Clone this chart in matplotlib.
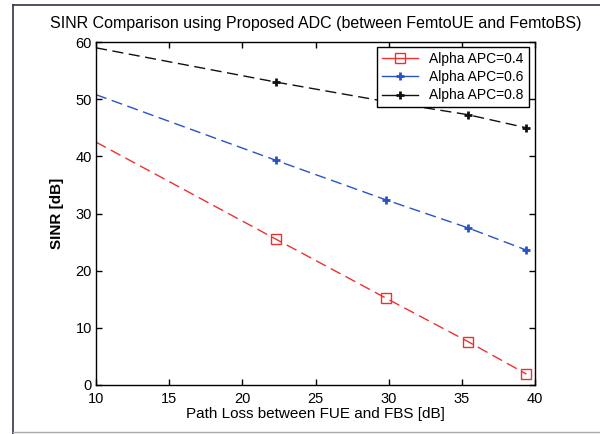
import matplotlib
matplotlib.use("Agg")
import matplotlib.pyplot as plt
from matplotlib.lines import Line2D

plt.rcParams['font.family'] = ['Liberation Sans', 'DejaVu Sans']

path_loss = [10.0, 22.3, 29.8, 35.4, 39.4]
sinr_04 = [42.5, 25.5, 15.2, 7.6, 1.9]
sinr_06 = [50.8, 39.3, 32.4, 27.5, 23.6]
sinr_08 = [59.0, 53.0, 49.6, 47.3, 45.0]
labels = ['Alpha APC=0.4', 'Alpha APC=0.6', 'Alpha APC=0.8']
x_ticks = [10, 15, 20, 25, 30, 35, 40]
y_ticks = [0, 10, 20, 30, 40, 50, 60]

fig = plt.figure(figsize=(6.0, 4.34), dpi=100)
fig.patch.set_facecolor('white')
ax = fig.add_axes([0.16, 0.113, 0.732, 0.790])

dash = (0, (8, 4))
ax.plot(path_loss, sinr_04, color='#f03030', linestyle=dash, lw=1.0,
        marker='s', markersize=6.5, markerfacecolor='none', markeredgecolor='#f03030',
        markeredgewidth=1.0, markevery=[1, 2, 3, 4], label=labels[0])
ax.plot(path_loss, sinr_06, color='#2a52c8', linestyle=dash, lw=1.0,
        marker='+', markersize=5.5, markeredgewidth=2.0, markevery=[1, 2, 3, 4],
        label=labels[1])
ax.plot(path_loss, sinr_08, color='#111111', linestyle=dash, lw=1.0,
        marker='+', markersize=5.5, markeredgewidth=2.0, markevery=[1, 2, 3, 4],
        label=labels[2])

ax.set_xlim(10, 40)
ax.set_ylim(0, 60)
ax.set_xticks(x_ticks)
ax.set_yticks(y_ticks)
ax.tick_params(direction='in', length=4, labelsize=10.5, top=True, right=True,
               width=1.0)
ax.tick_params(axis='y', pad=3)
ax.tick_params(axis='x', pad=5)
for s in ax.spines.values():
    s.set_linewidth(1.0)

ax.set_title('SINR Comparison using Proposed ADC (between FemtoUE and FemtoBS)',
             fontsize=11.5, pad=10)
ax.set_xlabel('Path Loss between FUE and FBS [dB]', fontsize=11, labelpad=1)
ax.set_ylabel('SINR [dB]', fontsize=11, fontweight='bold', labelpad=8)

handles = [
    Line2D([], [], color='#f03030', ls='-', lw=1.0, marker='s', markersize=6.5,
           markerfacecolor='none', markeredgecolor='#f03030'),
    Line2D([], [], color='#2a52c8', ls='-', lw=1.0, marker='+', markersize=5.5,
           markeredgewidth=2.0),
    Line2D([], [], color='#111111', ls='-', lw=1.0, marker='+', markersize=5.5,
           markeredgewidth=2.0),
]
leg = ax.legend(handles, labels, loc='upper right', bbox_to_anchor=(0.985, 0.985),
                fontsize=10, frameon=True, fancybox=False, edgecolor='black',
                framealpha=1.0, handlelength=2.6, borderpad=0.35,
                labelspacing=0.3, handletextpad=0.8, borderaxespad=0.0)
leg.get_frame().set_linewidth(1.0)

# scanned-page frame
fig.add_artist(Line2D([0.022, 0.022], [0.0, 0.988], transform=fig.transFigure,
                      color='#333344', lw=1.2))
fig.add_artist(Line2D([0.022, 1.0], [0.988, 0.988], transform=fig.transFigure,
                      color='#333344', lw=1.2))
fig.add_artist(Line2D([0.022, 1.0], [0.004, 0.004], transform=fig.transFigure,
                      color='#aaaaaa', lw=1.0))

fig.savefig('out.png', dpi=100)
